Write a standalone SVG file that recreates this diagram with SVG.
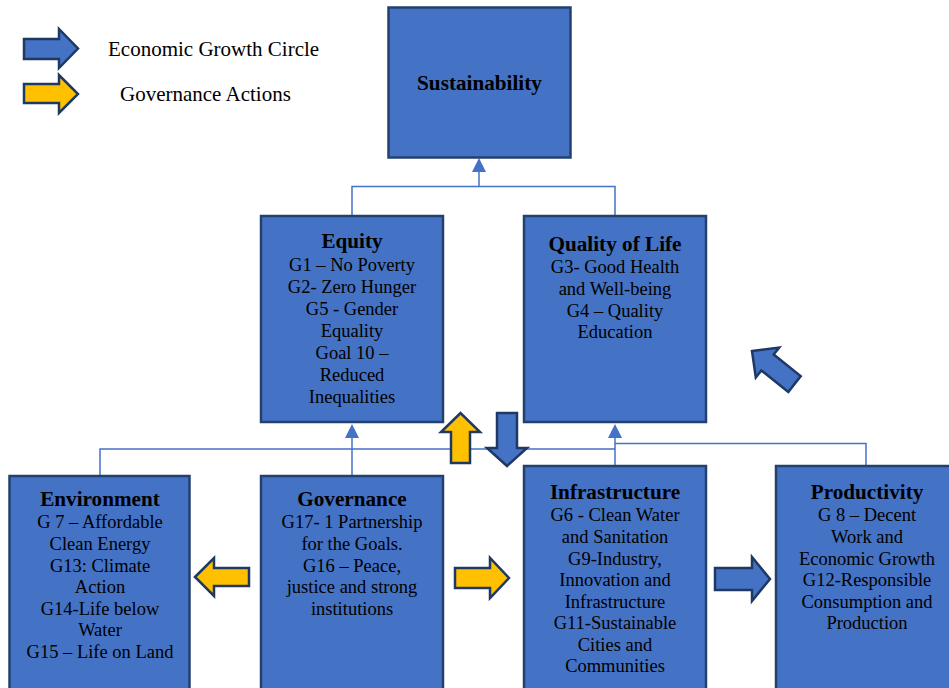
<svg xmlns="http://www.w3.org/2000/svg" width="949" height="688" viewBox="0 0 949 688">
  <style>
    .box { fill: #4472C4; stroke: #23406F; stroke-width: 2.5; }
    .link { fill: none; stroke: #4472C4; stroke-width: 1.5; }
    .blue { fill: #4472C4; stroke: #1F3864; stroke-width: 2.5; stroke-linejoin: miter; }
    .gold { fill: #FFC000; stroke: #1F3864; stroke-width: 2.5; stroke-linejoin: miter; }
    text { font-family: "Liberation Serif", "Times New Roman", serif; fill: #000; text-anchor: middle; }
    .title { font-size: 21.2px; font-weight: bold; }
    .body { font-size: 18.5px; }
    .legend { font-size: 21px; text-anchor: start; }
  </style>
  <defs>
    <marker id="head" viewBox="0 0 10 10" refX="0" refY="5" markerUnits="userSpaceOnUse" markerWidth="14" markerHeight="15" orient="auto">
      <path d="M0,0 L10,5 L0,10 Z" fill="#4472C4"/>
    </marker>
  </defs>

  <rect width="949" height="688" fill="#ffffff"/>

  <!-- legend -->
  <g id="legend">
    <polygon class="blue" points="24,39 59,39 59,29 78,48.5 59,68 59,59 24,59"/>
    <text class="legend" x="108" y="56">Economic Growth Circle</text>
    <polygon class="gold" points="24,84 59,84 59,75 78,94 59,113 59,103 24,103"/>
    <text class="legend" x="120" y="101">Governance Actions</text>
  </g>

  <!-- connectors -->
  <g id="connectors">
    <path class="link" d="M352,216 V186.5 H615 V216"/>
    <path class="link" d="M479,186.5 V172" marker-end="url(#head)"/>
    <path class="link" d="M100,476 V449 H615"/>
    <path class="link" d="M352,476 V438" marker-end="url(#head)"/>
    <path class="link" d="M615,466 V438" marker-end="url(#head)"/>
    <path class="link" d="M615,443.5 H866 V466"/>
  </g>

  <!-- nodes -->
  <g id="sustainability">
    <rect class="box" x="388.5" y="7.5" width="182" height="150"/>
    <text class="title" x="479.5" y="90">Sustainability</text>
  </g>

  <g id="equity">
    <rect class="box" x="261" y="216" width="182" height="206"/>
    <text class="title" x="352" y="248">Equity</text>
    <text class="body" x="352" y="271">G1 – No Poverty</text>
    <text class="body" x="352" y="293">G2- Zero Hunger</text>
    <text class="body" x="352" y="315">G5 - Gender</text>
    <text class="body" x="352" y="337">Equality</text>
    <text class="body" x="352" y="359">Goal 10 –</text>
    <text class="body" x="352" y="381">Reduced</text>
    <text class="body" x="352" y="403">Inequalities</text>
  </g>

  <g id="quality-of-life">
    <rect class="box" x="524" y="216" width="182" height="206"/>
    <text class="title" x="615" y="251">Quality of Life</text>
    <text class="body" x="615" y="273">G3- Good Health</text>
    <text class="body" x="615" y="295">and Well-being</text>
    <text class="body" x="615" y="317">G4 – Quality</text>
    <text class="body" x="615" y="338">Education</text>
  </g>

  <g id="environment">
    <rect class="box" x="9.5" y="476" width="180" height="230"/>
    <text class="title" x="100" y="506">Environment</text>
    <text class="body" x="100" y="528">G 7 – Affordable</text>
    <text class="body" x="100" y="550">Clean Energy</text>
    <text class="body" x="100" y="571.5">G13: Climate</text>
    <text class="body" x="100" y="593">Action</text>
    <text class="body" x="100" y="614.5">G14-Life below</text>
    <text class="body" x="100" y="636">Water</text>
    <text class="body" x="100" y="657.5">G15 – Life on Land</text>
  </g>

  <g id="governance">
    <rect class="box" x="261" y="476" width="182" height="230"/>
    <text class="title" x="352" y="506">Governance</text>
    <text class="body" x="352" y="528">G17- 1 Partnership</text>
    <text class="body" x="352" y="550">for the Goals.</text>
    <text class="body" x="352" y="571.5">G16 – Peace,</text>
    <text class="body" x="352" y="593">justice and strong</text>
    <text class="body" x="352" y="614.5">institutions</text>
  </g>

  <g id="infrastructure">
    <rect class="box" x="524" y="466" width="182" height="240"/>
    <text class="title" x="615" y="499">Infrastructure</text>
    <text class="body" x="615" y="521">G6 - Clean Water</text>
    <text class="body" x="615" y="543">and Sanitation</text>
    <text class="body" x="615" y="564.5">G9-Industry,</text>
    <text class="body" x="615" y="586">Innovation and</text>
    <text class="body" x="615" y="607.5">Infrastructure</text>
    <text class="body" x="615" y="629">G11-Sustainable</text>
    <text class="body" x="615" y="650.5">Cities and</text>
    <text class="body" x="615" y="672">Communities</text>
  </g>

  <g id="productivity">
    <rect class="box" x="776" y="466" width="182" height="240"/>
    <text class="title" x="867" y="499">Productivity</text>
    <text class="body" x="867" y="521">G 8 – Decent</text>
    <text class="body" x="867" y="543">Work and</text>
    <text class="body" x="867" y="564.5">Economic Growth</text>
    <text class="body" x="867" y="586">G12-Responsible</text>
    <text class="body" x="867" y="607.5">Consumption and</text>
    <text class="body" x="867" y="629">Production</text>
  </g>

  <!-- block arrows -->
  <g id="flow-arrows">
    <polygon class="gold" points="451,463 451,432 441,432 460.5,413 480,432 470,432 470,463"/>
    <polygon class="blue" points="497,413 517,413 517,448 527,448 507,466 487,448 497,448"/>
    <polygon class="gold" points="195,577 214,558 214,568 249,568 249,586 214,586 214,596"/>
    <polygon class="gold" points="455,568 490,568 490,558 509,578 490,598 490,588 455,588"/>
    <polygon class="blue" points="715,568 752,568 752,557 770,579 752,601 752,590 715,590"/>
    <polygon class="blue" points="752,351 779.2,347.6 773.7,354.6 800.7,376.1 788.3,391.9 761.3,370.4 755.8,377.4"/>
  </g>
</svg>
